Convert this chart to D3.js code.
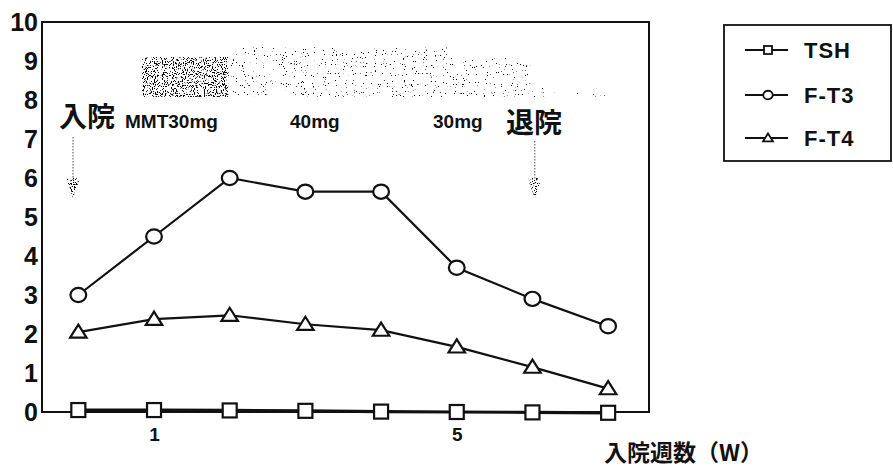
<!DOCTYPE html>
<html>
<head>
<meta charset="utf-8">
<script src="https://cdn.jsdelivr.net/npm/d3@7"></script>
<style>
  body { margin: 0; background: #fff; }
  text { font-family: "Liberation Sans", "Noto Sans CJK JP", sans-serif; font-weight: bold; fill: #111; }
  .jp { font-family: "Noto Sans CJK JP", sans-serif; font-weight: bold; }
</style>
</head>
<body>
<script>
// data
const weeks = [0, 1, 2, 3, 4, 5, 6, 7];
const tsh = [0.05, 0.05, 0.04, 0.03, 0.01, 0.0, -0.01, -0.02];
const ft3 = [3.0, 4.5, 6.0, 5.65, 5.65, 3.7, 2.9, 2.2];
const ft4 = [2.05, 2.38, 2.48, 2.25, 2.1, 1.67, 1.15, 0.6];
const yTicks = [0, 1, 2, 3, 4, 5, 6, 7, 8, 9, 10];
const xTicks = [1, 5];
const seriesNames = ["TSH", "F-T3", "F-T4"];
const doseLabels = ["MMT30mg", "40mg", "30mg"];

window.onload = () => {
    const W = 893, H = 470;
    const left = 42, right = 649, top = 22, bottom = 412;

    const x = d3.scaleLinear().domain([-0.48, 7.54]).range([left, right]);
    const y = d3.scaleLinear().domain([0, 10]).range([bottom, top]);

    const svg = d3.select("body").append("svg")
        .attr("width", W)
        .attr("height", H);

    // stipple filters for the shaded dose bars
    const defs = svg.append("defs");
    function stipple(id, cut) {
        const f = defs.append("filter").attr("id", id)
            .attr("color-interpolation-filters", "sRGB")
            .attr("x", 0).attr("y", 0).attr("width", 1).attr("height", 1);
        f.append("feTurbulence").attr("type", "fractalNoise")
            .attr("baseFrequency", 0.9).attr("numOctaves", 2).attr("seed", 3).attr("result", "n");
        f.append("feColorMatrix").attr("in", "n").attr("type", "matrix")
            .attr("values", "0 0 0 0 0  0 0 0 0 0  0 0 0 0 0  20 0 0 0 " + (-20 * cut))
            .attr("result", "dots");
        f.append("feComposite").attr("in", "dots").attr("in2", "SourceGraphic").attr("operator", "in");
    }
    stipple("stDark", 0.56);
    stipple("stMid", 0.7);
    stipple("stLight", 0.75);

    const shade = (w0, w1, v0, v1, fill, filt) => svg.append("rect")
        .attr("x", x(w0)).attr("y", y(v1))
        .attr("width", x(w1) - x(w0)).attr("height", y(v0) - y(v1))
        .attr("fill", fill).attr("filter", "url(#" + filt + ")");
    shade(1.98, 4.87, 8.08, 9.36, "#333", "stMid");
    shade(4.87, 5.97, 8.08, 9.08, "#333", "stMid");
    shade(5.97, 6.96, 8.07, 8.38, "#444", "stLight");
    shade(0.84, 1.98, 8.08, 9.1, "#222", "stDark");

    // frame
    svg.append("rect")
        .attr("x", left).attr("y", top)
        .attr("width", right - left).attr("height", bottom - top)
        .attr("fill", "none").attr("stroke", "#111").attr("stroke-width", 2);

    // y axis labels
    const yAxis = svg.append("g")
        .attr("transform", "translate(" + left + ",0)")
        .call(d3.axisLeft(y).tickValues(yTicks).tickSize(0).tickPadding(4));
    yAxis.select(".domain").remove();
    yAxis.selectAll("text").style("font-size", "25px").attr("fill", "#111");

    // x axis labels
    const xAxis = svg.append("g")
        .attr("transform", "translate(0," + bottom + ")")
        .call(d3.axisBottom(x).tickValues(xTicks).tickSize(0).tickPadding(16));
    xAxis.select(".domain").remove();
    xAxis.selectAll("text").style("font-size", "19px").attr("fill", "#111");

    svg.append("text").attr("class", "jp")
        .attr("x", 604).attr("y", 461)
        .style("font-size", "23px")
        .text("入院週数（W）");

    // annotations
    svg.append("text").attr("class", "jp")
        .attr("x", 59).attr("y", 127).style("font-size", "28px").text("入院");
    svg.append("text").attr("class", "jp")
        .attr("x", 506).attr("y", 133).style("font-size", "28px").text("退院");
    const doseX = [125, 290, 433];
    doseLabels.forEach((t, i) => {
        svg.append("text")
            .attr("x", doseX[i]).attr("y", 128)
            .style("font-size", "19px")
            .text(t);
    });

    // dashed arrows (admission / discharge)
    [[x(-0.07), 137], [x(6.03), 141]].forEach(([ax, ay]) => {
        svg.append("line")
            .attr("x1", ax).attr("x2", ax)
            .attr("y1", ay).attr("y2", 180)
            .attr("stroke", "#888").attr("stroke-width", 1.5)
            .attr("stroke-dasharray", "1.5,1.5");
        svg.append("path")
            .attr("d", "M" + (ax - 7) + ",178 L" + (ax + 7) + ",178 L" + ax + ",198 Z")
            .attr("fill", "#222").attr("filter", "url(#stDark)");
    });

    // series
    const series = [
        {name: "TSH", values: tsh, shape: "square", width: 3.2},
        {name: "F-T3", values: ft3, shape: "circle", width: 2.2},
        {name: "F-T4", values: ft4, shape: "triangle", width: 2.2}
    ];

    function marker(g, shape, s) {
        if (shape === "square") {
            return g.append("rect").attr("x", -s).attr("y", -s)
                .attr("width", 2 * s).attr("height", 2 * s);
        } else if (shape === "circle") {
            return g.append("ellipse").attr("rx", s * 1.05).attr("ry", s * 0.95);
        }
        return g.append("path")
            .attr("d", "M0," + (-s) + " L" + (s * 1.1) + "," + (s * 0.75) + " L" + (-s * 1.1) + "," + (s * 0.75) + " Z");
    }

    const line = d3.line().x((d, i) => x(weeks[i])).y(d => y(d));

    series.forEach(s => {
        svg.append("path")
            .datum(s.values)
            .attr("d", line)
            .attr("fill", "none")
            .attr("stroke", "#111")
            .attr("stroke-width", s.width);
    });
    series.forEach(s => {
        s.values.forEach((v, i) => {
            const g = svg.append("g")
                .attr("transform", "translate(" + x(weeks[i]) + "," + y(v) + ")");
            marker(g, s.shape, s.shape === "square" ? 7 : 7.5)
                .attr("fill", "#fff").attr("stroke", "#111").attr("stroke-width", 2.2);
        });
    });

    // legend
    svg.append("rect")
        .attr("x", 724).attr("y", 25)
        .attr("width", 167).attr("height", 136)
        .attr("fill", "#fff").attr("stroke", "#111").attr("stroke-width", 1.8);
    const legY = [50, 95, 138];
    series.forEach((s, i) => {
        const g = svg.append("g").attr("transform", "translate(0," + legY[i] + ")");
        g.append("line").attr("x1", 745).attr("x2", 788)
            .attr("stroke", "#111").attr("stroke-width", 1.8);
        const m = g.append("g").attr("transform", "translate(768,0)");
        marker(m, s.shape, s.shape === "square" ? 4 : 4.5)
            .attr("fill", "#fff").attr("stroke", "#111").attr("stroke-width", 1.8);
        g.append("text").attr("x", 804).attr("y", 8)
            .style("font-size", "22px").style("letter-spacing", "1px")
            .text(seriesNames[i]);
    });
};
</script>
</body>
</html>
